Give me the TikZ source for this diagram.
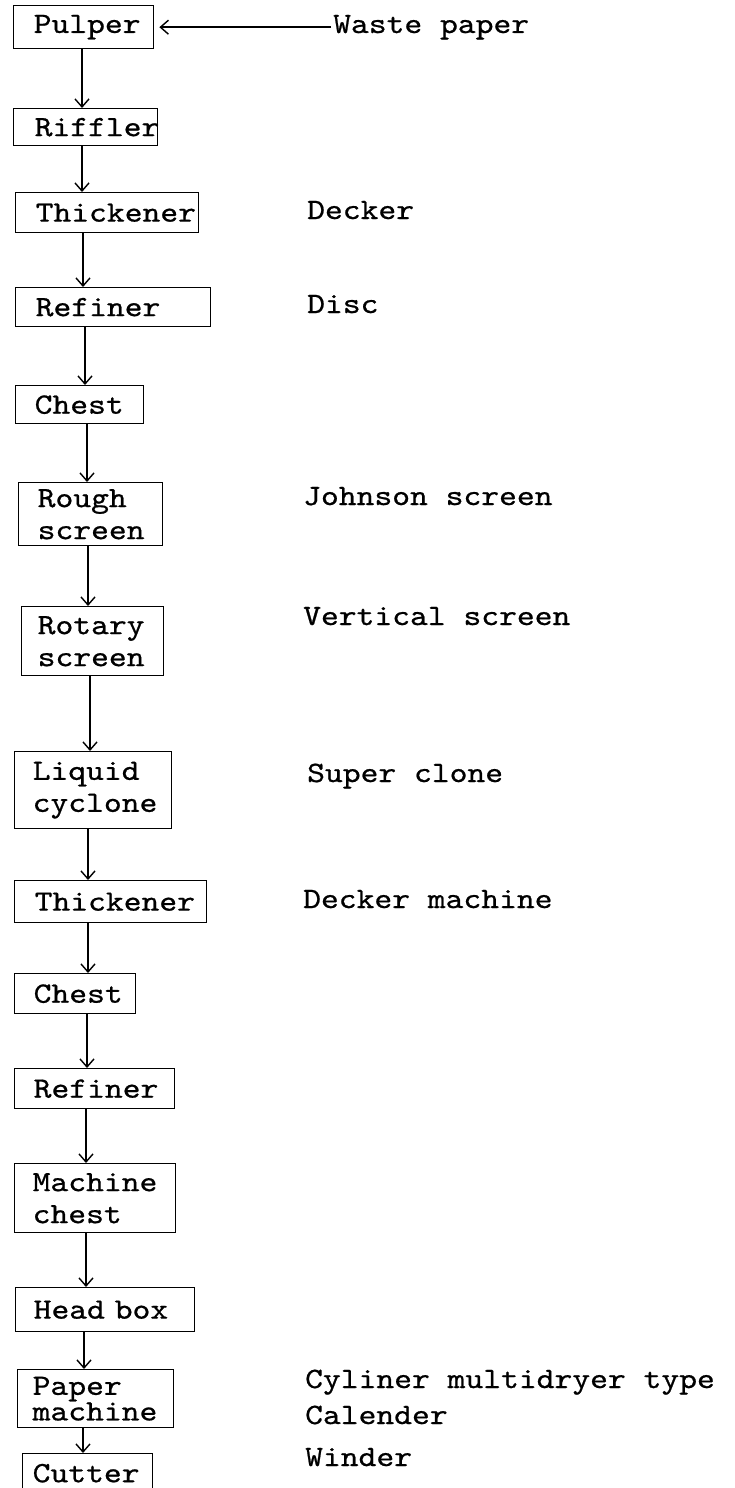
\documentclass[tikz,border=0pt]{standalone}
\usepackage{fontspec}
\setmonofont[Extension=.otf, FakeStretch=1.15, FakeBold=0.7]{lmmono10-regular}
\usetikzlibrary{arrows.meta}
\setlength{\parindent}{0pt}
\newcommand\fbpad{0pt}
\newcommand\nl{\\\hspace*{\fbpad}}
\newcommand\flowbox[8][]{%
  \pgfmathsetmacro\fbw{#5-#3}%
  \pgfmathsetmacro\fbh{#6-#4}%
  \renewcommand\fbpad{#7pt}%
  \node[box, text width=\fbw pt, minimum height=\fbh pt, anchor=north west, #1] (#2) at (#3,-#4) {\hspace*{\fbpad}#8};}
\newcommand\flowarrow[3]{%
  \coordinate (col-#1) at (#3,0);
  \draw[arr] (#1.south -| col-#1) -- (#2.north -| col-#1);}
\tikzset{
  box/.style={draw, line width=1.4pt, inner xsep=0pt, inner ysep=0pt, align=left,
    font=\ttfamily\fontsize{29.5}{32}\selectfont},
  lbl/.style={inner sep=0pt, anchor=base west, font=\ttfamily\fontsize{29.5}{32}\selectfont},
  arr/.style={line width=1.4pt, -{Straight Barb[length=8pt,width=14pt,line width=1.4pt]}}
}
\begin{document}
\begin{tikzpicture}[x=1pt,y=1pt]
\clip (0,0) rectangle (735,-1488);
\fill[white] (0,0) rectangle (735,-1488);
\flowbox{pulper}{13}{5}{153}{48}{20}{Pulper}
\flowbox{riffler}{13}{108}{157}{145}{21}{Riffler}
\flowbox{thick1}{15}{192}{198}{232}{20}{Thickener}
\flowbox{refin1}{15}{287}{210}{326}{20}{Refiner}
\flowbox{chest1}{15}{385}{143}{423}{19}{Chest}
\flowbox{rough}{18}{482}{162}{545}{19}{Rough\nl screen}
\flowbox{rotary}{21}{606}{163}{675}{16}{Rotary\nl screen}
\flowbox{liquid}{14}{751}{171}{828}{18}{Liquid\nl cyclone}
\flowbox{thick2}{14}{880}{206}{922}{20}{Thickener}
\flowbox{chest2}{14}{973}{135}{1013}{19}{Chest}
\flowbox{refin2}{14}{1068}{174}{1108}{19}{Refiner}
\flowbox{mchest}{14}{1163}{175}{1232}{18}{Machine\nl chest}
\flowbox{headbox}{15}{1287}{194}{1331}{18}{Head box}
\flowbox[font=\ttfamily\fontsize{29.5}{23}\selectfont]{paper}{17}{1369}{173}{1427}{15}{Paper\nl machine}
\flowbox{cutter}{22}{1453}{152}{1492}{10}{Cutter}

\flowarrow{pulper}{riffler}{82}
\flowarrow{riffler}{thick1}{82}
\flowarrow{thick1}{refin1}{83}
\flowarrow{refin1}{chest1}{85}
\flowarrow{chest1}{rough}{87}
\flowarrow{rough}{rotary}{88}
\flowarrow{rotary}{liquid}{90}
\flowarrow{liquid}{thick2}{88}
\flowarrow{thick2}{chest2}{88}
\flowarrow{chest2}{refin2}{87}
\flowarrow{refin2}{mchest}{86}
\flowarrow{mchest}{headbox}{86}
\flowarrow{headbox}{paper}{84}
\flowarrow{paper}{cutter}{83}

\node[lbl] (waste) at (333,-33) {Waste paper};
\coordinate (wstart) at ([xshift=-2pt]waste.west |- pulper.east);
\draw[arr, shorten >=5pt] (wstart) -- (pulper.east);

\node[lbl] (l1) at (307,-219) {Decker};
\node[lbl] (l2) at (307,-313) {Disc};
\node[lbl] (l3) at (303,-505) {Johnson screen};
\node[lbl] (l4) at (303,-625) {Vertical screen};
\node[lbl] (l5) at (307,-782) {Super clone};
\node[lbl] (l6) at (303,-908) {Decker machine};
\node[lbl] (l7) at (305,-1388) {Cyliner multidryer type};
\node[lbl] (l8) at (305,-1424) {Calender};
\node[lbl] (l9) at (305,-1466) {Winder};
\end{tikzpicture}
\end{document}
